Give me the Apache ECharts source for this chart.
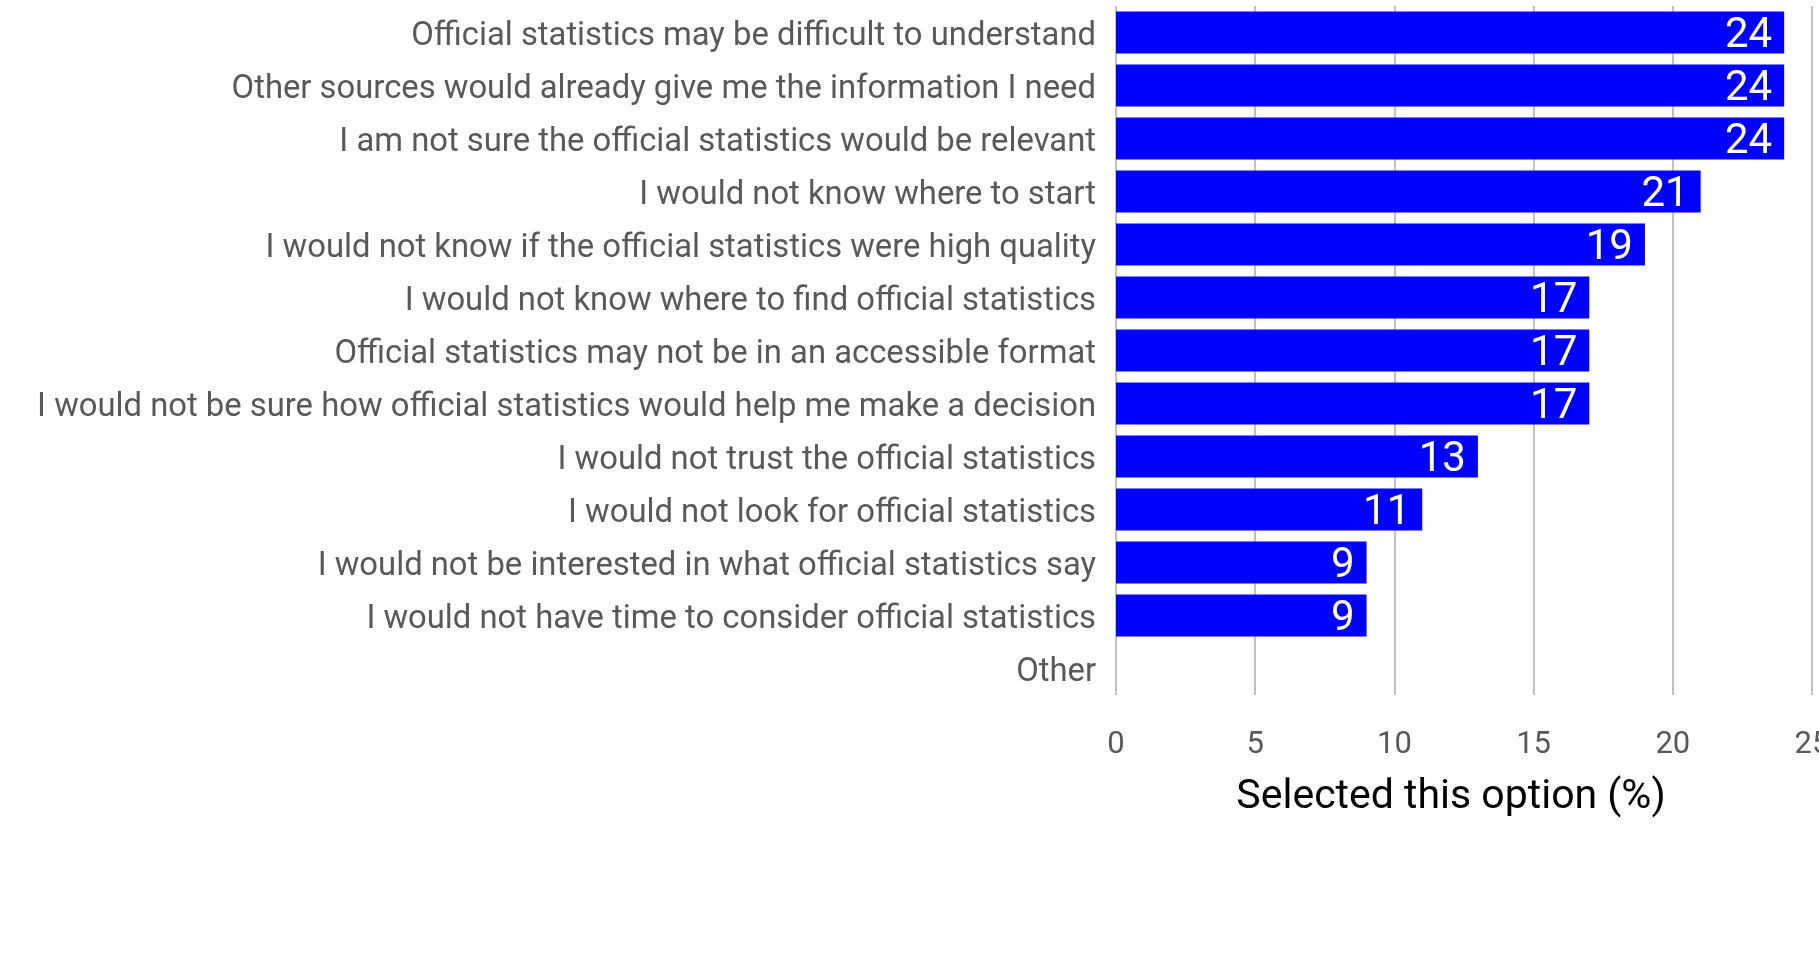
<!DOCTYPE html>
<html>
<head>
<meta charset="utf-8">
<script src="https://cdn.jsdelivr.net/npm/echarts@6/dist/echarts.min.js"></script>
<style>
html,body{margin:0;padding:0;background:#fff;overflow:hidden;}
#chart{width:1819px;height:956px;}
</style>
</head>
<body>
<div id="chart"></div>
<script>
const categories = [
  "Official statistics may be difficult to understand",
  "Other sources would already give me the information I need",
  "I am not sure the official statistics would be relevant",
  "I would not know where to start",
  "I would not know if the official statistics were high quality",
  "I would not know where to find official statistics",
  "Official statistics may not be in an accessible format",
  "I would not be sure how official statistics would help me make a decision",
  "I would not trust the official statistics",
  "I would not look for official statistics",
  "I would not be interested in what official statistics say",
  "I would not have time to consider official statistics",
  "Other"
];
const selectedPct = [24, 24, 24, 21, 19, 17, 17, 17, 13, 11, 9, 9, null];
const xTicks = [0, 5, 10, 15, 20, 25];
const xTitle = "Selected this option (%)";

const FONT = "Roboto";
const chart = echarts.init(document.getElementById('chart'), null, {renderer: 'canvas', width: 1819, height: 956});
chart.setOption({
  animation: false,
  backgroundColor: '#ffffff',
  grid: {left: 1116, right: 7, top: 6, bottom: 261, containLabel: false, outerBoundsMode: 'none'},
  xAxis: {
    type: 'value',
    min: xTicks[0],
    max: xTicks[xTicks.length - 1],
    interval: xTicks[1] - xTicks[0],
    axisLine: {show: false},
    axisTick: {show: false},
    axisLabel: {color: '#595959', fontSize: 31, fontFamily: FONT, margin: 35},
    splitLine: {show: true, lineStyle: {color: '#c0c0c0', width: 2}},
    name: xTitle,
    nameLocation: 'middle',
    nameGap: 82,
    nameTextStyle: {color: '#000000', fontSize: 41, fontFamily: FONT, padding: [0, 26, 0, 0]}
  },
  yAxis: {
    type: 'category',
    data: categories,
    inverse: true,
    axisLine: {show: false},
    axisTick: {show: false},
    splitLine: {show: false},
    axisLabel: {
      margin: 20,
      formatter: function (v) { return '{c|' + v + '}'; },
      rich: {c: {color: '#595959', fontSize: 32.8, fontFamily: FONT, padding: [8, 0, 0, 0]}}
    }
  },
  series: [{
    type: 'bar',
    data: selectedPct,
    barWidth: 42,
    itemStyle: {color: '#0000ff'},
    label: {
      show: true,
      position: 'insideRight',
      distance: 12,
      offset: [0, 4],
      color: '#ffffff',
      fontSize: 42,
      fontFamily: FONT
    }
  }]
});
</script>
</body>
</html>
